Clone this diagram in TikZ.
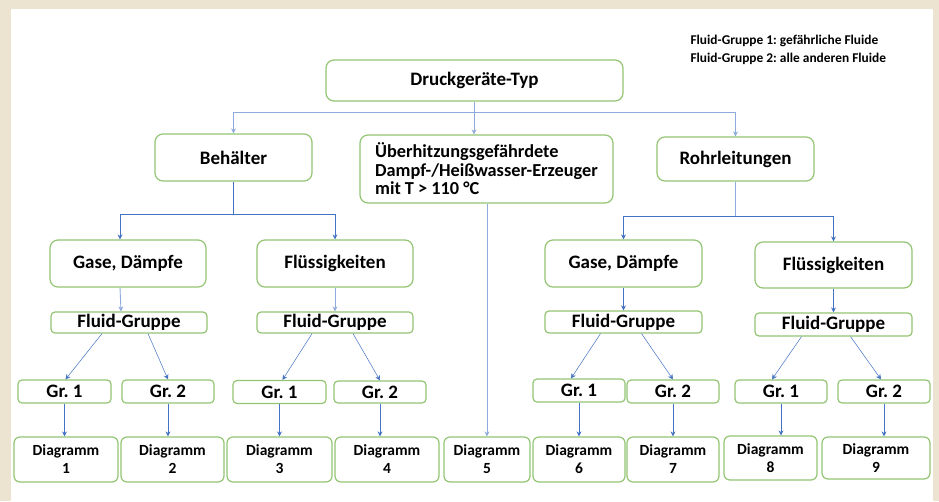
\documentclass[tikz,border=0pt]{standalone}
\usepackage{fontspec}
\setmainfont{Carlito}
\usetikzlibrary{arrows.meta}
\frenchspacing

\definecolor{framebeige}{HTML}{EDE3D1}
\definecolor{boxgreen}{HTML}{93C572}
\definecolor{lineblue}{HTML}{4472C4}
\definecolor{lightblue}{HTML}{8FAADC}

\tikzset{
  typebox/.style={draw=boxgreen, line width=1.2pt, fill=white, rounded corners=8pt,
    inner sep=0pt, align=center, font=\bfseries\fontsize{19}{17}\selectfont},
  groupbox/.style={typebox, rounded corners=4pt},
  diagbox/.style={typebox, rounded corners=6pt, font=\bfseries\fontsize{15.5}{18}\selectfont},
  link/.style={draw=lineblue, line width=0.8pt},
  toplink/.style={draw=lightblue, line width=0.9pt},
  tip/.style={-{Stealth[length=5pt,width=5pt]}},
}

\begin{document}
\begin{tikzpicture}[x=1pt, y=-1pt]

\def \ytrunk     {112}
\def \ybranchL   {214}
\def \ybranchR   {216}

% frame
\fill[framebeige] (0,0) rectangle (939,501);
\fill[white] (11,9) rectangle (933,501);
\useasboundingbox (0,0) rectangle (939,501);

% legend
\node[anchor=north west, align=left, font=\bfseries\fontsize{13.4}{18}\selectfont] (legend) at (687,32)
  {Fluid-Gruppe 1: gefährliche Fluide\\Fluid-Gruppe 2: alle anderen Fluide};

% top level
\node[typebox, minimum width=297, minimum height=41] (typ) at (474.5,80.5) {Druckgeräte-Typ};
\node[typebox, minimum width=157, minimum height=47] (beh) at (233.5,157.5) {Behälter};
\node[typebox, minimum width=253, minimum height=68, align=left,
      font=\bfseries\fontsize{18.3}{18.5}\selectfont] (ueb) at (486.5,169)
  {Überhitzungsgefährdete\\Dampf-/Heißwasser-Erzeuger\\mit T > 110 °C};
\node[typebox, minimum width=157, minimum height=44] (roh) at (735.5,159) {Rohrleitungen};

% fluid kinds
\node[typebox, minimum width=156, minimum height=47] (gasL) at (128,263.5) {Gase, Dämpfe};
\node[typebox, minimum width=156, minimum height=47] (fluL) at (335,263.5) {Flüssigkeiten};
\node[typebox, minimum width=157, minimum height=47] (gasR) at (623.5,263.5) {Gase, Dämpfe};
\node[typebox, minimum width=157, minimum height=46] (fluR) at (833.5,265) {Flüssigkeiten};

% fluid groups
\node[groupbox, minimum width=156, minimum height=21] (fgGasL) at (129,322.5) {Fluid-Gruppe};
\node[groupbox, minimum width=156, minimum height=21] (fgFluL) at (335,322.5) {Fluid-Gruppe};
\node[groupbox, minimum width=157, minimum height=22] (fgGasR) at (623.5,322) {Fluid-Gruppe};
\node[groupbox, minimum width=157, minimum height=23] (fgFluR) at (833.5,324.5) {Fluid-Gruppe};

\node[groupbox, minimum width=93, minimum height=23] (grA1) at (64.5,391.5) {Gr. 1};
\node[groupbox, minimum width=92, minimum height=23] (grA2) at (168,391.5) {Gr. 2};
\node[groupbox, minimum width=93, minimum height=23] (grB1) at (279.5,392) {Gr. 1};
\node[groupbox, minimum width=92, minimum height=22] (grB2) at (380,392) {Gr. 2};
\node[groupbox, minimum width=92, minimum height=23] (grC1) at (579,390.5) {Gr. 1};
\node[groupbox, minimum width=92, minimum height=23] (grC2) at (673,391.5) {Gr. 2};
\node[groupbox, minimum width=92, minimum height=23] (grD1) at (781,391.5) {Gr. 1};
\node[groupbox, minimum width=92, minimum height=23] (grD2) at (884,391.5) {Gr. 2};

% diagrams
\node[diagbox, minimum width=104, minimum height=45] (dia1) at (66,459.5)  {Diagramm\\1};
\node[diagbox, minimum width=103, minimum height=45] (dia2) at (172.5,459.5) {Diagramm\\2};
\node[diagbox, minimum width=105, minimum height=45] (dia3) at (279.5,459.5) {Diagramm\\3};
\node[diagbox, minimum width=104, minimum height=45] (dia4) at (387,459.5) {Diagramm\\4};
\node[diagbox, minimum width=86,  minimum height=45] (dia5) at (487,459.5) {Diagramm\\5};
\node[diagbox, minimum width=92,  minimum height=45] (dia6) at (579,459.5) {Diagramm\\6};
\node[diagbox, minimum width=92,  minimum height=45] (dia7) at (673,459.5) {Diagramm\\7};
\node[diagbox, minimum width=93,  minimum height=44] (dia8) at (770.5,458) {Diagramm\\8};
\node[diagbox, minimum width=108, minimum height=42] (dia9) at (876,458)   {Diagramm\\9};

% trunk below the type box
\coordinate (jTyp) at (474,\ytrunk);
\draw[toplink] (typ.south -| jTyp) -- (jTyp);
\draw[toplink, tip] (jTyp) -| (beh.north);
\draw[toplink, tip] (jTyp) -| (roh.north);
\draw[toplink, tip] (jTyp) -- (jTyp |- ueb.north);

% vessels
\coordinate (jBeh) at (233,\ybranchL);
\draw[link] (beh.south -| jBeh) -- (jBeh);
\draw[link, tip] (jBeh) -| ([xshift=-8pt]gasL.north);
\draw[link, tip] (jBeh) -| (fluL.north);

% pipes
\coordinate (jRoh) at (735,\ybranchR);
\draw[toplink] (roh.south -| jRoh) -- (jRoh);
\draw[link, tip] (jRoh) -| (gasR.north);
\draw[link, tip] (jRoh) -| (fluR.north);

% steam generators
\draw[toplink, tip] (ueb.south -| dia5.north) -- (dia5.north);

% kind to fluid group
\draw[toplink, tip] ([xshift=-8pt]gasL.south) -- ([xshift=-8pt]fgGasL.north);
\draw[toplink, tip] (fluL.south) -- (fluL.south |- fgFluL.north);
\draw[link, tip] (gasR.south) -- (gasR.south |- fgGasR.north);
\draw[link, tip] (fluR.south) -- (fluR.south |- fgFluR.north);

% fluid group to groups
\draw[link, line width=0.5pt, tip] ([xshift=-27pt]fgGasL.south) -- ([xshift=1pt]grA1.north);
\draw[link, line width=0.5pt, tip] ([xshift=19pt]fgGasL.south) -- (grA2.north);
\draw[link, line width=0.5pt, tip] ([xshift=-23pt]fgFluL.south) -- ([xshift=3pt]grB1.north);
\draw[link, line width=0.5pt, tip] ([xshift=18pt]fgFluL.south) -- (grB2.north);
\draw[link, line width=0.5pt, tip] ([xshift=-23pt]fgGasR.south) -- ([xshift=-8pt]grC1.north);
\draw[link, line width=0.5pt, tip] ([xshift=18pt]fgGasR.south) -- (grC2.north);
\draw[link, line width=0.5pt, tip] ([xshift=-32pt]fgFluR.south) -- ([xshift=-9pt]grD1.north);
\draw[link, line width=0.5pt, tip] ([xshift=17pt]fgFluR.south) -- ([xshift=-3pt]grD2.north);

% groups to diagrams
\foreach \gr/\dia in {grA1/dia1, grA2/dia2, grB1/dia3, grB2/dia4, grC1/dia6, grC2/dia7, grD1/dia8, grD2/dia9}
  \draw[link, tip] (\gr.south) -- (\gr.south |- \dia.north);

\end{tikzpicture}
\end{document}
